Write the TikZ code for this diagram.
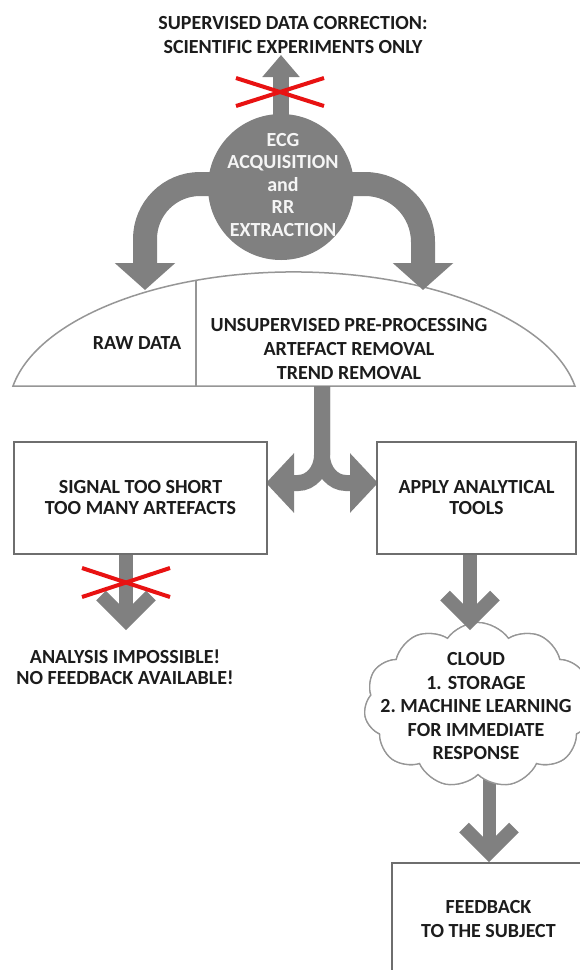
\documentclass[tikz,border=0pt]{standalone}
\usepackage{fontspec}
\setmainfont{Carlito}
\usetikzlibrary{arrows.meta,shapes.symbols,calc}
\pgfdeclarelayer{back}
\pgfsetlayers{back,main}

\definecolor{arrowgray}{RGB}{128,128,128}
\definecolor{linegray}{RGB}{110,110,110}
\definecolor{domegray}{RGB}{150,150,150}
\definecolor{inkdark}{RGB}{28,28,28}
\definecolor{ecgwhite}{RGB}{245,245,245}
\definecolor{crossred}{RGB}{232,18,18}

\begin{document}
\begin{tikzpicture}[x=1pt,y=-1pt,
  lbl/.style={font=\bfseries\fontsize{20}{#1}\selectfont, text=inkdark, align=center, inner sep=0pt},
  lbl/.default=22,
  boxnode/.style={draw=linegray, line width=1.5pt, fill=white, inner sep=0pt},
  fat/.style={draw=arrowgray, line width=#1},
  chev/.style={draw=arrowgray, line width=13.5pt, miter limit=10},
  cross/.style={draw=crossred, line width=4pt},
  outline/.style={draw=domegray, line width=1.5pt},
]
\useasboundingbox (0,0) rectangle (579,970);

% heading at the top
\node[lbl=24.5] (toptext) at (293,35) {SUPERVISED DATA CORRECTION:\\SCIENTIFIC EXPERIMENTS ONLY};

% acquisition disc
\node[circle, fill=arrowgray, minimum size=146pt, inner sep=0pt] (ecg) at (281,187) {};
\node[lbl=22.5, text=ecgwhite] (ecgtext) at (283,185) {ECG\\ACQUISITION\\and\\RR\\EXTRACTION};

% data stage: dome split in two
\coordinate (domebase) at (322,386);
\coordinate (uptip) at (281,55);
\coordinate (lefttip) at (145,290);
\coordinate (righttip) at (423,290);
\coordinate (splitL) at (266,483);
\coordinate (splitR) at (378,483);

\begin{pgfonlayer}{back}
  \fill[white] (0,0) rectangle (579,970);
  \draw[outline, fill=white] (13,386) arc[start angle=190, end angle=350, x radius=285.3, y radius=138] -- cycle;
  \draw[outline] (196,280.4) -- (196,386);

  % block arrows leaving the disc
  \draw[fat=16pt, -{Triangle[length=22pt, width=36pt]}] (ecg.center) -- (uptip);
  \draw[fat=24pt, -{Triangle[length=27pt, width=59pt]}]
    ($(ecg.west)+(25,-3)$) -- (200,184) .. controls (169.6,184) and (145,208.6) .. (145,239) -- (lefttip);
  \draw[fat=24pt, -{Triangle[length=27pt, width=59pt]}]
    ($(ecg.east)+(-25,-3)$) -- (365,184) .. controls (397,184) and (423,210) .. (423,242) -- (righttip);

  % forked arrow below the dome
  \draw[fat=16pt, -{Triangle[length=28pt, width=58pt]}]
    (domebase) -- (322,455) .. controls (322,470.5) and (311.2,483) .. (298,483) -- (splitL);
  \draw[fat=16pt, -{Triangle[length=28pt, width=58pt]}]
    (domebase) -- (322,455) .. controls (322,470.5) and (332.8,483) .. (346,483) -- (splitR);
\end{pgfonlayer}

\node[lbl] (rawtext) at (137,343) {RAW DATA};
\node[lbl=24] (pretext) at (349,349) {UNSUPERVISED PRE-PROCESSING\\ARTEFACT REMOVAL\\TREND REMOVAL};

% crossed-out upward path
\draw[cross] (236,78) -- (324,106);
\draw[cross] (236,106) -- (324,78);

% decision boxes
\node[boxnode, lbl=21, minimum width=253pt, minimum height=112pt] (shortbox) at (140.5,498) {SIGNAL TOO SHORT\\TOO MANY ARTEFACTS};
\node[boxnode, lbl=21, minimum width=199pt, minimum height=112pt] (toolsbox) at (476.5,498) {APPLY ANALYTICAL\\TOOLS};

% failed branch
\coordinate (failtip) at (126,630);
\draw[fat=14pt] (shortbox.south -| failtip) -- ($(failtip)+(0,-9.5)$);
\draw[chev] ($(failtip)+(-25,-34.5)$) -- ($(failtip)+(0,-9.5)$) -- ($(failtip)+(25,-34.5)$);
\draw[cross] (82,568) -- (170,597);
\draw[cross] (82,597) -- (170,568);
\node[lbl=21] (failtext) at (125,667) {ANALYSIS IMPOSSIBLE!\\NO FEEDBACK AVAILABLE!};

% cloud stage
\coordinate (fbtip) at (489,862);
\node[cloud, cloud puffs=11, cloud puff arc=110, cloud ignores aspect, minimum width=228pt, minimum height=165pt, draw=domegray, line width=1.3pt, inner sep=0pt] (cloud) at (478,705) {};
\begin{pgfonlayer}{back}
  \draw[fat=13pt] (cloud.south -| fbtip) -- ($(fbtip)+(0,-9.5)$);
  \draw[chev] ($(fbtip)+(-25,-34.5)$) -- ($(fbtip)+(0,-9.5)$) -- ($(fbtip)+(25,-34.5)$);
\end{pgfonlayer}
\node[cloud, cloud puffs=11, cloud puff arc=110, cloud ignores aspect, minimum width=228pt, minimum height=165pt, fill=white, draw=domegray, line width=1.3pt, inner sep=0pt] at (cloud.center) {};
\node[lbl=23.5] (cloudtext) at (476,706) {CLOUD\\1. STORAGE\\2.\ MACHINE LEARNING\\FOR IMMEDIATE\\RESPONSE};

\coordinate (cloudtip) at (470,630);
\draw[fat=14pt] (toolsbox.south -| cloudtip) -- ($(cloudtip)+(0,-9.5)$);
\draw[chev] ($(cloudtip)+(-25,-34.5)$) -- ($(cloudtip)+(0,-9.5)$) -- ($(cloudtip)+(25,-34.5)$);

% final feedback
\node[boxnode, lbl=24, minimum width=193pt, minimum height=112pt] (feedback) at (488.5,919) {FEEDBACK\\TO THE SUBJECT};
\end{tikzpicture}
\end{document}
